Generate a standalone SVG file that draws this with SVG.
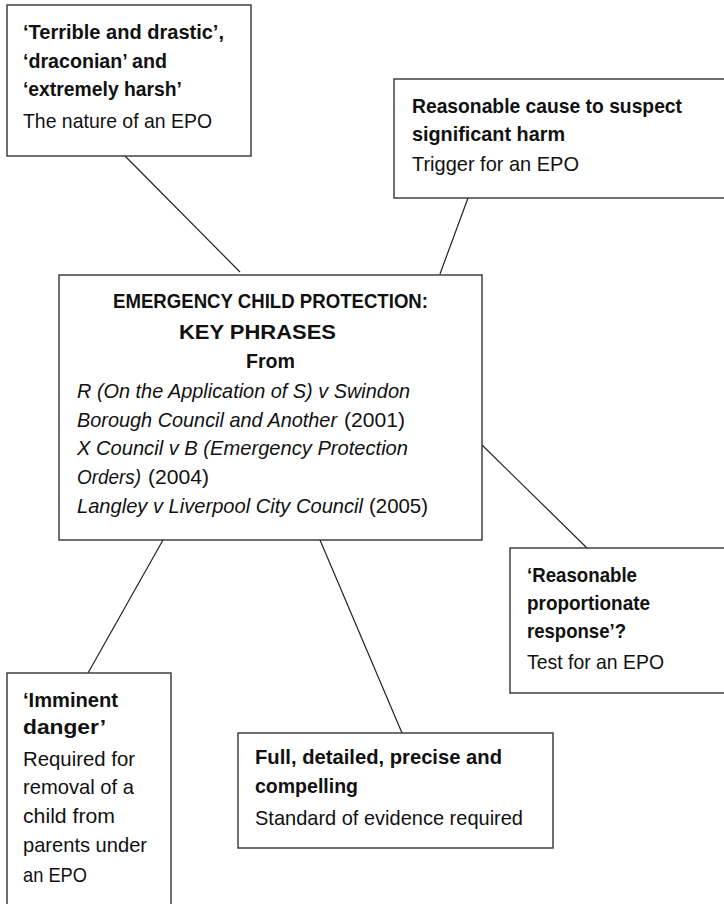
<svg xmlns="http://www.w3.org/2000/svg" width="724" height="904" viewBox="0 0 724 904">
<style>
.box{fill:#fff;stroke:#333;stroke-width:1.4}
.con line{stroke:#222;stroke-width:1.2}
text{font-family:"Liberation Sans",Arial,sans-serif;font-size:21px;fill:#111}
.b{font-weight:bold}
.i{font-style:italic}
.c{text-anchor:middle}
</style>
<rect width="724" height="904" fill="#fff"/>
<g id="connectors" class="con">
<line x1="125" y1="156" x2="240" y2="272"/>
<line x1="468" y1="198" x2="440" y2="274"/>
<line x1="482" y1="445" x2="587" y2="548"/>
<line x1="163" y1="540" x2="88" y2="673"/>
<line x1="320" y1="540" x2="402" y2="733"/>
</g>
<g id="node-nature">
<rect class="box" x="7" y="5" width="244" height="151"/>
<text class="b" x="23" y="39" textLength="201" lengthAdjust="spacingAndGlyphs">‘Terrible and drastic’,</text>
<text class="b" x="23" y="68" textLength="144" lengthAdjust="spacingAndGlyphs">‘draconian’ and</text>
<text class="b" x="23" y="96" textLength="159" lengthAdjust="spacingAndGlyphs">‘extremely harsh’</text>
<text x="23" y="128" textLength="189" lengthAdjust="spacingAndGlyphs">The nature of an EPO</text>
</g>
<g id="node-trigger">
<rect class="box" x="394" y="79" width="350" height="119"/>
<text class="b" x="412" y="113" textLength="270" lengthAdjust="spacingAndGlyphs">Reasonable cause to suspect</text>
<text class="b" x="412" y="141" textLength="153" lengthAdjust="spacingAndGlyphs">significant harm</text>
<text x="412" y="171" textLength="167" lengthAdjust="spacingAndGlyphs">Trigger for an EPO</text>
</g>
<g id="node-main">
<rect class="box" x="59" y="275" width="423" height="265"/>
<text class="b c" x="270.5" y="308" textLength="315" lengthAdjust="spacingAndGlyphs">EMERGENCY CHILD PROTECTION:</text>
<text class="b c" x="257.5" y="339" textLength="157" lengthAdjust="spacingAndGlyphs">KEY PHRASES</text>
<text class="b c" x="270.5" y="368" textLength="49" lengthAdjust="spacingAndGlyphs">From</text>
<text class="i" x="77" y="398" textLength="333" lengthAdjust="spacingAndGlyphs">R (On the Application of S) v Swindon</text>
<text class="i" x="77" y="427" textLength="260" lengthAdjust="spacingAndGlyphs">Borough Council and Another</text>
<text x="344" y="427" textLength="61" lengthAdjust="spacingAndGlyphs">(2001)</text>
<text class="i" x="77" y="455" textLength="331" lengthAdjust="spacingAndGlyphs">X Council v B (Emergency Protection</text>
<text class="i" x="77" y="484" textLength="64" lengthAdjust="spacingAndGlyphs">Orders)</text>
<text x="148" y="484" textLength="61" lengthAdjust="spacingAndGlyphs">(2004)</text>
<text class="i" x="77" y="513" textLength="286" lengthAdjust="spacingAndGlyphs">Langley v Liverpool City Council</text>
<text x="369" y="513" textLength="59" lengthAdjust="spacingAndGlyphs">(2005)</text>
</g>
<g id="node-test">
<rect class="box" x="510" y="548" width="234" height="145"/>
<text class="b" x="527" y="582" textLength="110" lengthAdjust="spacingAndGlyphs">‘Reasonable</text>
<text class="b" x="527" y="610" textLength="123" lengthAdjust="spacingAndGlyphs">proportionate</text>
<text class="b" x="527" y="638" textLength="99" lengthAdjust="spacingAndGlyphs">response’?</text>
<text x="527" y="669" textLength="137" lengthAdjust="spacingAndGlyphs">Test for an EPO</text>
</g>
<g id="node-danger">
<rect class="box" x="7" y="673" width="164" height="250"/>
<text class="b" x="23" y="707" textLength="95" lengthAdjust="spacingAndGlyphs">‘Imminent</text>
<text class="b" x="23" y="734" textLength="83" lengthAdjust="spacingAndGlyphs">danger’</text>
<text x="23" y="766" textLength="112" lengthAdjust="spacingAndGlyphs">Required for</text>
<text x="23" y="794" textLength="111" lengthAdjust="spacingAndGlyphs">removal of a</text>
<text x="23" y="823" textLength="92" lengthAdjust="spacingAndGlyphs">child from</text>
<text x="23" y="852" textLength="124" lengthAdjust="spacingAndGlyphs">parents under</text>
<text x="23" y="882" textLength="64" lengthAdjust="spacingAndGlyphs">an EPO</text>
</g>
<g id="node-evidence">
<rect class="box" x="238" y="733" width="315" height="115"/>
<text class="b" x="255" y="764" textLength="247" lengthAdjust="spacingAndGlyphs">Full, detailed, precise and</text>
<text class="b" x="255" y="793" textLength="103" lengthAdjust="spacingAndGlyphs">compelling</text>
<text x="255" y="825" textLength="268" lengthAdjust="spacingAndGlyphs">Standard of evidence required</text>
</g>
</svg>
